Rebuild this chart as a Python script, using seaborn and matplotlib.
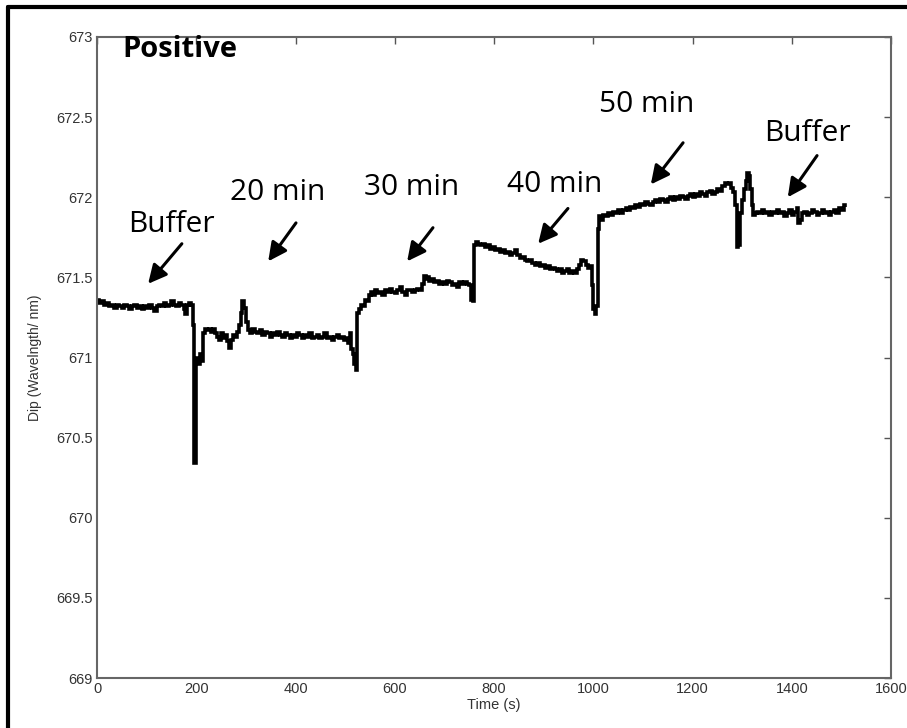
import numpy as np
import pandas as pd
import matplotlib
matplotlib.use("Agg")
import matplotlib.pyplot as plt
from matplotlib.lines import Line2D
import seaborn as sns

# Sensor trace: time (s) and resonance dip wavelength (nm)
time_s = [
    0, 5, 10, 15, 20, 25, 30, 35, 40, 45, 50, 55, 60, 65, 70, 75, 80, 85, 90, 95,
    100, 105, 110, 115, 120, 125, 130, 135, 140, 145, 150, 155, 160, 165, 170, 175,
    178, 181, 185, 190, 193, 195, 197, 199, 203, 207, 211, 214, 218, 222, 226, 230,
    234, 238, 242, 246, 250, 254, 258, 262, 266, 270, 274, 278, 282, 286, 290, 293,
    296, 300, 304, 308, 313, 318, 323, 328, 333, 338, 343, 348, 353, 358, 363, 368,
    373, 378, 383, 388, 393, 398, 403, 408, 413, 418, 423, 428, 433, 438, 443, 448,
    453, 458, 463, 468, 473, 478, 483, 488, 493, 498, 502, 506, 509, 512, 515, 518,
    521, 524, 528, 532, 536, 540, 544, 548, 552, 556, 560, 565, 570, 575, 580, 585,
    590, 595, 600, 605, 610, 615, 620, 625, 630, 635, 640, 645, 650, 654, 658, 662,
    666, 670, 675, 680, 685, 690, 695, 700, 705, 710, 715, 720, 725, 730, 735, 740,
    745, 750, 754, 757, 760, 764, 768, 772, 777, 782, 787, 792, 797, 802, 807, 812,
    817, 822, 827, 832, 837, 842, 847, 852, 857, 862, 867, 872, 877, 882, 887, 892,
    897, 902, 907, 912, 917, 922, 927, 932, 937, 942, 947, 952, 957, 962, 967, 972,
    976, 980, 985, 990, 994, 997, 1000, 1003, 1006, 1009, 1012, 1016, 1020, 1025,
    1030, 1035, 1040, 1045, 1050, 1055, 1060, 1065, 1070, 1075, 1080, 1085, 1090,
    1095, 1100, 1105, 1110, 1115, 1120, 1125, 1130, 1135, 1140, 1145, 1150, 1155,
    1160, 1165, 1170, 1175, 1180, 1185, 1190, 1195, 1200, 1205, 1210, 1215, 1220,
    1225, 1230, 1235, 1240, 1245, 1250, 1255, 1260, 1265, 1270, 1274, 1278, 1282,
    1286, 1289, 1292, 1295, 1299, 1303, 1307, 1310, 1313, 1316, 1319, 1322, 1326,
    1330, 1335, 1340, 1345, 1350, 1355, 1360, 1365, 1370, 1375, 1380, 1385, 1390,
    1395, 1400, 1405, 1410, 1413, 1416, 1420, 1425, 1430, 1435, 1440, 1445, 1450,
    1455, 1460, 1465, 1470, 1475, 1480, 1485, 1490, 1495, 1500, 1505, 1508,
]
dip_nm = [
    671.36, 671.34, 671.35, 671.33, 671.34, 671.32, 671.33, 671.31, 671.33, 671.32,
    671.31, 671.33, 671.32, 671.30, 671.32, 671.33, 671.31, 671.32, 671.30, 671.32,
    671.31, 671.33, 671.31, 671.29, 671.32, 671.33, 671.32, 671.34, 671.32, 671.33,
    671.35, 671.33, 671.32, 671.34, 671.33, 671.30, 671.27, 671.33, 671.34, 671.33,
    671.20, 670.34, 670.34, 671.00, 670.96, 671.02, 670.98, 671.15, 671.18, 671.17,
    671.18, 671.16, 671.18, 671.15, 671.13, 671.11, 671.15, 671.12, 671.14, 671.10,
    671.06, 671.11, 671.14, 671.13, 671.16, 671.20, 671.28, 671.35, 671.31, 671.22,
    671.17, 671.15, 671.18, 671.16, 671.15, 671.17, 671.14, 671.16, 671.15, 671.13,
    671.15, 671.14, 671.16, 671.14, 671.13, 671.15, 671.14, 671.12, 671.14, 671.13,
    671.15, 671.14, 671.12, 671.14, 671.13, 671.15, 671.12, 671.13, 671.14, 671.12,
    671.13, 671.15, 671.12, 671.13, 671.11, 671.13, 671.14, 671.12, 671.13, 671.11,
    671.12, 671.09, 671.15, 671.05, 671.02, 670.96, 670.92, 671.28, 671.30, 671.33,
    671.32, 671.36, 671.35, 671.39, 671.41, 671.39, 671.42, 671.40, 671.41, 671.39,
    671.42, 671.41, 671.43, 671.41, 671.40, 671.42, 671.44, 671.41, 671.39, 671.42,
    671.42, 671.41, 671.42, 671.43, 671.42, 671.46, 671.51, 671.49, 671.50, 671.48,
    671.49, 671.47, 671.48, 671.46, 671.47, 671.46, 671.48, 671.47, 671.45, 671.46,
    671.44, 671.47, 671.46, 671.47, 671.46, 671.45, 671.36, 671.35, 671.70, 671.72,
    671.71, 671.70, 671.71, 671.69, 671.70, 671.68, 671.69, 671.67, 671.68, 671.66,
    671.67, 671.65, 671.66, 671.64, 671.65, 671.67, 671.64, 671.62, 671.63, 671.61,
    671.60, 671.61, 671.59, 671.58, 671.59, 671.57, 671.58, 671.56, 671.57, 671.55,
    671.56, 671.55, 671.54, 671.55, 671.53, 671.54, 671.55, 671.53, 671.54, 671.53,
    671.55, 671.58, 671.61, 671.60, 671.58, 671.56, 671.57, 671.45, 671.30, 671.27,
    671.32, 671.80, 671.88, 671.86, 671.89, 671.88, 671.90, 671.89, 671.91, 671.90,
    671.92, 671.90, 671.92, 671.93, 671.92, 671.94, 671.93, 671.95, 671.94, 671.96,
    671.95, 671.97, 671.96, 671.95, 671.97, 671.98, 671.97, 671.99, 671.98, 671.97,
    671.99, 672.00, 671.98, 672.00, 671.99, 672.01, 672.00, 671.99, 672.01, 672.02,
    672.00, 672.02, 672.01, 672.03, 672.02, 672.01, 672.03, 672.04, 672.02, 672.03,
    672.05, 672.04, 672.07, 672.09, 672.08, 672.09, 672.06, 672.03, 671.95, 671.69,
    671.70, 671.90, 671.98, 672.05, 672.10, 672.15, 672.13, 672.05, 671.95, 671.89,
    671.90, 671.91, 671.90, 671.92, 671.90, 671.91, 671.89, 671.91, 671.90, 671.92,
    671.90, 671.91, 671.88, 671.90, 671.92, 671.89, 671.91, 671.93, 671.84, 671.86,
    671.90, 671.91, 671.89, 671.90, 671.92, 671.91, 671.89, 671.90, 671.92, 671.90,
    671.91, 671.89, 671.91, 671.92, 671.90, 671.93, 671.92, 671.95, 671.94,
]

# Injection labels: text, text anchor (t, nm), arrow tail (t, nm), arrow tip (t, nm)
label_text = ["Buffer", "20 min", "30 min", "40 min", "50 min", "Buffer"]
label_pos = [(151, 671.83), (365, 672.03), (635, 672.06), (923, 672.08), (1108, 672.58), (1431, 672.40)]
arrow_tail = [(171, 671.71), (401, 671.84), (677, 671.81), (949, 671.93), (1181, 672.34), (1451, 672.26)]
arrow_tip = [(103, 671.46), (345, 671.60), (625, 671.60), (889, 671.71), (1116, 672.08), (1392, 672.00)]

x_ticks = [0, 200, 400, 600, 800, 1000, 1200, 1400, 1600]
y_ticks = [669, 669.5, 670, 670.5, 671, 671.5, 672, 672.5, 673]

sns.set_theme(style="white")
narrow = ["Liberation Sans Narrow", "Liberation Sans", "DejaVu Sans"]
plt.rcParams["font.family"] = narrow

df = pd.DataFrame({"Time (s)": time_s, "Dip": dip_nm})

fig = plt.figure(figsize=(9.07, 7.28), dpi=100)
ax = fig.add_axes([97 / 907, 1 - 678 / 728, 794 / 907, 641 / 728])

sns.lineplot(data=df, x="Time (s)", y="Dip", ax=ax, color="black",
             linewidth=2.6, drawstyle="steps-post", estimator=None, sort=False,
             solid_capstyle="butt", solid_joinstyle="miter")

ax.set_xlim(0, 1600)
ax.set_ylim(669, 673)
ax.set_xticks(x_ticks)
ax.set_yticks(y_ticks)
ax.set_xticklabels([f"{v:g}" for v in x_ticks])
ax.set_yticklabels([f"{v:g}" for v in y_ticks])
ax.tick_params(direction="in", length=5, width=1.0, color="#555555",
               top=True, right=True, labelsize=10.5, labelcolor="#333333", pad=3)
for s in ax.spines.values():
    s.set_color("#666666")
    s.set_linewidth(1.5)
ax.set_xlabel("Time (s)", fontsize=10.5, color="#333333", labelpad=1)
ax.set_ylabel("Dip (Wavelngth/ nm)", fontsize=10, color="#333333", labelpad=10)

label_font = ["Open Sans", "DejaVu Sans"]
ax.text(52, 672.92, "Positive", fontsize=21, fontweight="bold", family=label_font,
        ha="left", va="center", color="black")
for txt, pos, tail, tip in zip(label_text, label_pos, arrow_tail, arrow_tip):
    ax.text(pos[0], pos[1], txt, fontsize=21.5, family=label_font,
            ha="center", va="center", color="black")
    ax.annotate("", xy=tip, xytext=tail,
                arrowprops=dict(arrowstyle="-|>", lw=2.2, color="black",
                                mutation_scale=28, shrinkA=0, shrinkB=0))

# Outer frame lines (left and top edges)
fig.add_artist(Line2D([8 / 907, 8 / 907], [-0.1, 1 - 7 / 728], color="black",
                      lw=3, transform=fig.transFigure))
fig.add_artist(Line2D([8 / 907, 1.1], [1 - 7 / 728, 1 - 7 / 728], color="black",
                      lw=3, transform=fig.transFigure))

fig.savefig("out.png", dpi=100)
